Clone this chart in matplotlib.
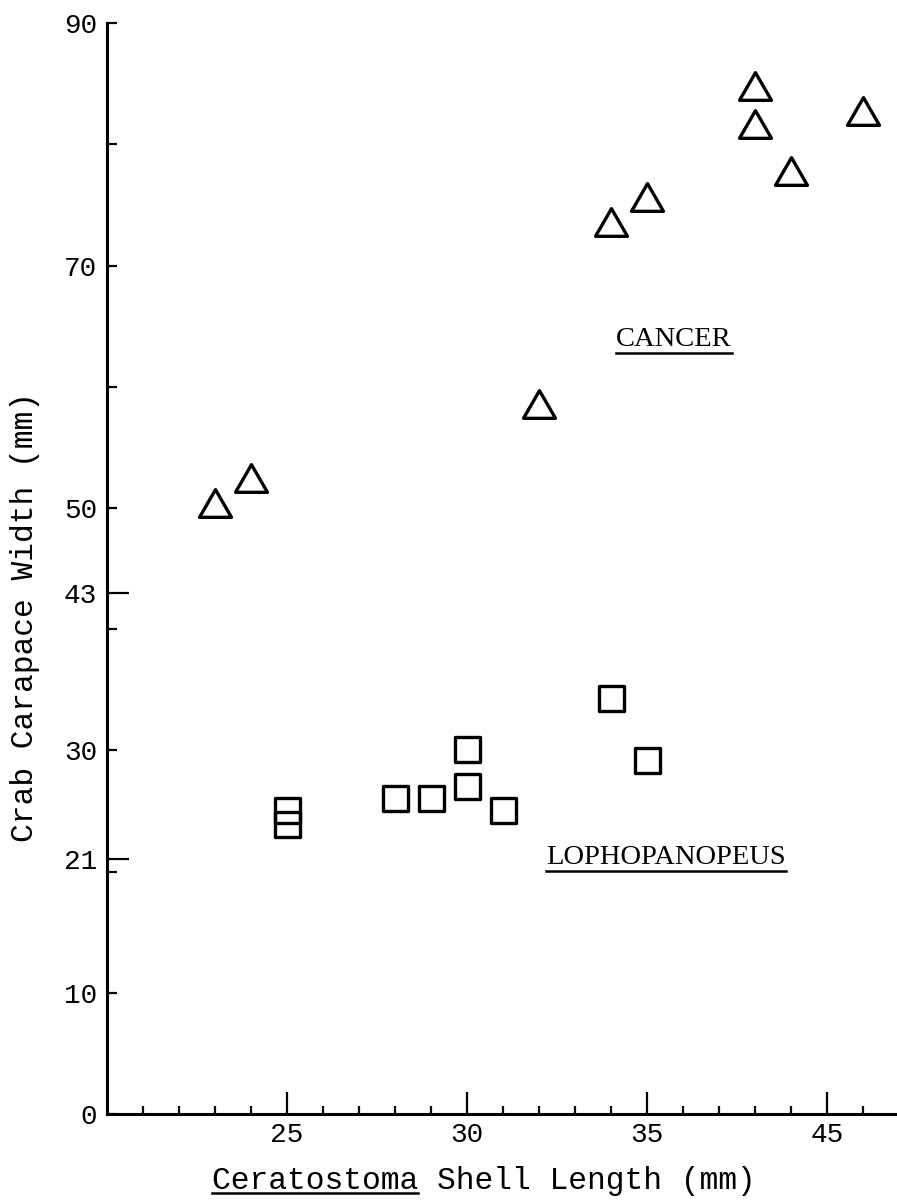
import matplotlib

matplotlib.use("Agg")

import matplotlib.pyplot as plt
from matplotlib.lines import Line2D
from matplotlib.markers import MarkerStyle
from matplotlib.path import Path
from matplotlib.ticker import FixedLocator, FixedFormatter

plt.rcParams["font.family"] = ["Liberation Mono", "DejaVu Sans Mono"]

# Cancer (triangles)
cancer_x = [23, 24, 32, 34, 35, 38, 38, 39, 41]
cancer_y = [50.4, 52.5, 58.6, 73.6, 75.7, 84.8, 81.7, 77.8, 82.8]

# Lophopanopeus (squares)
loph_x = [25, 25, 28, 29, 30, 30, 31, 34, 35]
loph_y = [25.1, 23.9, 26.1, 26.1, 30.1, 27.1, 25.1, 34.3, 29.2]

# axis ticks as printed (the 40 position is labelled "45" in the original)
x_major = [25, 30, 35, 40]
x_major_labels = ["25", "30", "35", "45"]
x_minor = [21, 22, 23, 24, 26, 27, 28, 29, 31, 32, 33, 34, 36, 37, 38, 39, 41]
y_major = [0, 10, 20, 30, 40, 50, 60, 70, 80, 90]
y_major_labels = ["0", "10", "", "30", "", "50", "", "70", "", "90"]
y_marked = [21, 43]
y_marked_labels = ["21", "43"]

fig = plt.figure(figsize=(8.97, 12), dpi=100)
ax = fig.add_axes([0.119, 0.0717, 0.881, 0.9089])

tri_path = Path([(-1, -0.866), (1, -0.866), (0, 0.866), (0, 0)],
                [Path.MOVETO, Path.LINETO, Path.LINETO, Path.CLOSEPOLY])
tri = MarkerStyle(tri_path, fillstyle="none", joinstyle="round")
sq = MarkerStyle("s", fillstyle="none", joinstyle="round")

ax.plot(cancer_x, cancer_y, linestyle="none", marker=tri, markersize=23,
        markeredgecolor="black", markeredgewidth=2.4)
ax.plot(loph_x, loph_y, linestyle="none", marker=sq, markersize=18,
        markeredgecolor="black", markeredgewidth=2.4)

ax.set_xlim(20, 41.95)
ax.set_ylim(0, 90)

for s in ["top", "right"]:
    ax.spines[s].set_visible(False)
for s in ["left", "bottom"]:
    ax.spines[s].set_linewidth(2.2)

ax.xaxis.set_major_locator(FixedLocator(x_major))
ax.xaxis.set_major_formatter(FixedFormatter(x_major_labels))
ax.xaxis.set_minor_locator(FixedLocator(x_minor))
ax.yaxis.set_major_locator(FixedLocator(y_major))
ax.yaxis.set_major_formatter(FixedFormatter(y_major_labels))
ax.yaxis.set_minor_locator(FixedLocator(y_marked))
ax.yaxis.set_minor_formatter(FixedFormatter(y_marked_labels))

ax.tick_params(axis="x", which="major", direction="in", length=16, width=1.6,
               pad=6, labelsize=20)
ax.tick_params(axis="x", which="minor", direction="in", length=6, width=1.6)
ax.tick_params(axis="y", which="major", direction="in", length=7, width=1.6,
               pad=7, labelsize=20)
ax.tick_params(axis="y", which="minor", direction="in", length=16, width=1.6,
               pad=7, labelsize=20)

fig.text(0.028, 1 - 617 / 1200, "Crab Carapace Width (mm)", rotation=90,
         ha="center", va="center", fontsize=22.5)
xl = fig.text(0.539, 1 - 1189 / 1200, "Ceratostoma Shell Length (mm)",
              ha="center", va="baseline", fontsize=22.5)

t1 = ax.text(35.76, 63.9, "CANCER", ha="center", va="center",
             family="Liberation Serif", fontsize=20.5)
t2 = ax.text(35.54, 21.2, "LOPHOPANOPEUS", ha="center", va="center",
             family="Liberation Serif", fontsize=20.5)


def underline(txt, frac=1.0, drop=4):
    fig.canvas.draw()
    bb = txt.get_window_extent()
    inv = fig.transFigure.inverted()
    x0, y0 = inv.transform((bb.x0, bb.y0 - drop))
    x1, _ = inv.transform((bb.x0 + bb.width * frac, bb.y0))
    fig.add_artist(Line2D([x0, x1], [y0, y0], color="black", linewidth=1.8,
                          transform=fig.transFigure))


underline(t1, drop=1)
underline(t2, drop=1)
underline(xl, frac=11 / 29, drop=-3)

fig.savefig("out.png", dpi=100)
plt.close("all")
